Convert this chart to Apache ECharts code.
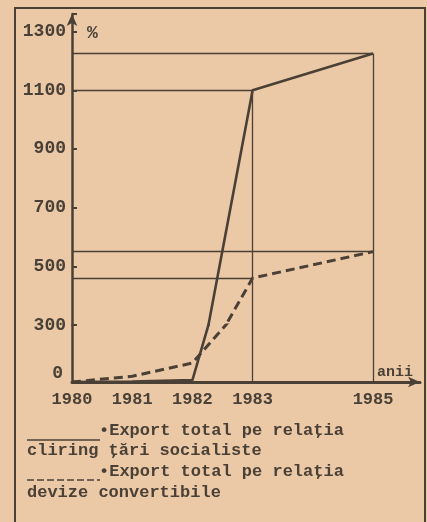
<!DOCTYPE html>
<html><head><meta charset="utf-8">
<script src="https://cdn.jsdelivr.net/npm/echarts@6/dist/echarts.min.js"></script>
<style>html,body{margin:0;padding:0;background:#ebc9a7;}#c{width:427px;height:522px;}</style>
</head><body><div id="c"></div>
<script>
// ---- data ----
const years = [1980, 1981, 1982, 1983, 1985];
const clearing = [0, 3, 10, 1100, 1225];      // solid: Export total pe relaţia cliring ţări socialiste (%)
const convertible = [0, 30, 100, 460, 550];   // dashed: Export total pe relaţia devize convertibile (%)
const yTickLabels = [0, 300, 500, 700, 900, 1100, 1300];
const xTickLabels = [1980, 1981, 1982, 1983, 1985];
const legendTexts = ['•Export total pe relaţia', 'cliring ţări socialiste', '•Export total pe relaţia', 'devize convertibile'];
const yUnit = '%';
const xUnit = 'anii';

// ---- styling ----
const ink = '#4a4036';
const font = '"Liberation Mono", "DejaVu Sans Mono", monospace';
const BREAK = 300;     // the drawing's y scale is compressed below 300
const X_MIN = 1980, X_MAX = 1985.78;

const chart = echarts.init(document.getElementById('c'), null, {renderer: 'canvas'});

function pts(vals) { return years.map((y, i) => [y, vals[i]]); }
const mlStyle = {type: 'solid', width: 1.3, color: ink};
function seg(a, b) { return [{coord: a}, {coord: b}]; }

const upperMarks = {
  silent: true, symbol: ['none', 'none'], label: {show: false}, lineStyle: mlStyle, animation: false,
  data: [
    seg([years[0], clearing[3]], [years[3], clearing[3]]),
    seg([years[0], clearing[4]], [years[4], clearing[4]]),
    seg([years[0], convertible[3]], [years[3], convertible[3]]),
    seg([years[0], convertible[4]], [years[4], convertible[4]]),
    seg([years[3], BREAK], [years[3], clearing[3]]),
    seg([years[4], BREAK], [years[4], clearing[4]])
  ]
};
const lowerMarks = {
  silent: true, symbol: ['none', 'none'], label: {show: false}, lineStyle: mlStyle, animation: false,
  data: [
    seg([years[3], 0], [years[3], BREAK]),
    seg([years[4], 0], [years[4], BREAK])
  ]
};

const solidStyle = {color: ink, width: 2.6, type: 'solid'};
const dashStyle = {color: ink, width: 3, type: [9, 5]};

const option = {
  animation: false,
  backgroundColor: '#ebc9a7',
  grid: [
    {left: 72, width: 348, top: 14, height: 311, outerBoundsMode: 'none'},
    {left: 72, width: 348, top: 325, height: 57, outerBoundsMode: 'none'}
  ],
  xAxis: [
    {gridIndex: 0, type: 'value', min: X_MIN, max: X_MAX, show: false},
    {gridIndex: 1, type: 'value', min: X_MIN, max: X_MAX, interval: 1,
      axisLine: {onZero: false, lineStyle: {color: ink, width: 3}, symbol: ['none', 'arrow'], symbolSize: [8, 12]},
      axisTick: {show: false}, splitLine: {show: false},
      axisLabel: {margin: 9, color: ink, fontFamily: font, fontSize: 17, fontWeight: 'bold',
        formatter: v => xTickLabels.includes(v) ? String(v) : ''}
    }
  ],
  yAxis: [
    {gridIndex: 0, type: 'value', min: BREAK, max: 1360, interval: 200,
      axisLine: {show: true, onZero: false, lineStyle: {color: ink, width: 2.5}, symbol: ['none', 'arrow'], symbolSize: [8, 12]},
      axisTick: {show: true, inside: true, length: 5, lineStyle: {color: ink, width: 2}},
      splitLine: {show: false},
      axisLabel: {margin: 6, color: ink, fontFamily: font, fontSize: 18, fontWeight: 'bold',
        formatter: v => yTickLabels.includes(v) ? String(v) : ''}
    },
    {gridIndex: 1, type: 'value', min: 0, max: BREAK, interval: BREAK,
      axisLine: {show: true, onZero: false, lineStyle: {color: ink, width: 2.5}},
      axisTick: {show: false}, splitLine: {show: false},
      axisLabel: {margin: 9, color: ink, fontFamily: font, fontSize: 18, fontWeight: 'bold', verticalAlign: 'bottom',
        formatter: v => (v === 0 && yTickLabels.includes(0)) ? '0' : ''}
    }
  ],
  series: [
    {type: 'line', xAxisIndex: 0, yAxisIndex: 0, data: pts(clearing), showSymbol: false, clip: true, lineStyle: solidStyle, markLine: upperMarks},
    {type: 'line', xAxisIndex: 0, yAxisIndex: 0, data: pts(convertible), showSymbol: false, clip: true, lineStyle: dashStyle},
    {type: 'line', xAxisIndex: 1, yAxisIndex: 1, data: pts(clearing), showSymbol: false, clip: true, lineStyle: solidStyle, markLine: lowerMarks},
    {type: 'line', xAxisIndex: 1, yAxisIndex: 1, data: pts(convertible), showSymbol: false, clip: true, lineStyle: dashStyle}
  ],
  graphic: [
    {type: 'rect', shape: {x: 15, y: 8, width: 410, height: 530}, style: {fill: 'none', stroke: ink, lineWidth: 2}, silent: true},
    {type: 'text', x: 87, y: 33, style: {text: yUnit, fill: ink, font: 'bold 18px ' + font, verticalAlign: 'middle'}},
    {type: 'text', x: 377, y: 372, style: {text: xUnit, fill: ink, font: 'bold 15px ' + font, verticalAlign: 'middle'}},
    {type: 'line', shape: {x1: 27, y1: 440, x2: 100, y2: 440}, style: {stroke: ink, lineWidth: 1.6}},
    {type: 'text', x: 99, y: 431, style: {text: legendTexts[0], fill: ink, font: 'bold 17px ' + font, verticalAlign: 'middle'}},
    {type: 'text', x: 27, y: 451, style: {text: legendTexts[1], fill: ink, font: 'bold 17px ' + font, verticalAlign: 'middle'}},
    {type: 'line', shape: {x1: 27, y1: 480, x2: 100, y2: 480}, style: {stroke: ink, lineWidth: 1.6, lineDash: [7, 3]}},
    {type: 'text', x: 99, y: 472, style: {text: legendTexts[2], fill: ink, font: 'bold 17px ' + font, verticalAlign: 'middle'}},
    {type: 'text', x: 27, y: 493, style: {text: legendTexts[3], fill: ink, font: 'bold 17px ' + font, verticalAlign: 'middle'}}
  ]
};
chart.setOption(option);
</script>
</body></html>
